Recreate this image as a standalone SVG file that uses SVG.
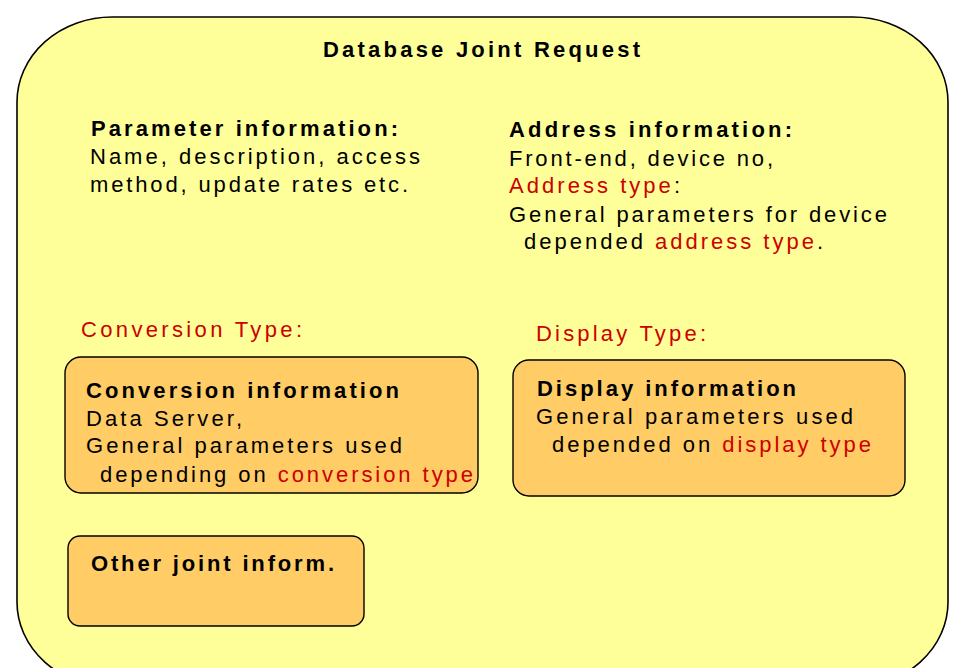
<svg xmlns="http://www.w3.org/2000/svg" width="960" height="668" viewBox="0 0 960 668">
<style>
text{font-family:"Liberation Sans",Arial,sans-serif;font-size:22px;fill:#000}
.b{font-weight:bold}
.r{fill:#CC0000}
.outer{fill:#FFFF99;stroke:#000;stroke-width:1.6}
.box{fill:#FFCC66;stroke:#000;stroke-width:1.4}
</style>
<rect width="960" height="668" fill="#fff"/>
<g id="joint-request">
<rect class="outer" x="17" y="17" width="931" height="670" rx="95" ry="85"/>
<text class="b" x="323" y="57" textLength="317" lengthAdjust="spacing">Database Joint Request</text>
</g>
<g id="parameter-info">
<text class="b" x="91" y="136" textLength="307" lengthAdjust="spacing">Parameter information:</text>
<text x="90" y="164" textLength="330" lengthAdjust="spacing">Name, description, access</text>
<text x="90" y="192" textLength="318" lengthAdjust="spacing">method, update rates etc.</text>
</g>
<g id="address-info">
<text class="b" x="509" y="137" textLength="283" lengthAdjust="spacing">Address information:</text>
<text x="509" y="166" textLength="264" lengthAdjust="spacing">Front-end, device no,</text>
<text x="509" y="193" textLength="171" lengthAdjust="spacing"><tspan class="r">Address type</tspan>:</text>
<text x="509" y="222" textLength="378" lengthAdjust="spacing">General parameters for device</text>
<text x="524" y="249" textLength="299" lengthAdjust="spacing">depended <tspan class="r">address type</tspan>.</text>
</g>
<g id="conversion-type">
<text class="r" x="81" y="337" textLength="221" lengthAdjust="spacing">Conversion Type:</text>
</g>
<g id="conversion-info">
<rect class="box" x="65" y="357" width="413" height="136" rx="16" ry="16"/>
<text class="b" x="86" y="398" textLength="313" lengthAdjust="spacing">Conversion information</text>
<text x="86" y="426" textLength="156" lengthAdjust="spacing">Data Server,</text>
<text x="86" y="453" textLength="316" lengthAdjust="spacing">General parameters used</text>
<text x="100" y="482" textLength="373" lengthAdjust="spacing">depending on <tspan class="r">conversion type</tspan></text>
</g>
<g id="display-type">
<text class="r" x="536" y="341" textLength="170" lengthAdjust="spacing">Display Type:</text>
</g>
<g id="display-info">
<rect class="box" x="513" y="360" width="392" height="136" rx="16" ry="16"/>
<text class="b" x="537" y="396" textLength="259" lengthAdjust="spacing">Display information</text>
<text x="536" y="424" textLength="317" lengthAdjust="spacing">General parameters used</text>
<text x="552" y="452" textLength="319" lengthAdjust="spacing">depended on <tspan class="r">display type</tspan></text>
</g>
<g id="other-info">
<rect class="box" x="68" y="536" width="296" height="90" rx="12" ry="12"/>
<text class="b" x="91" y="571" textLength="243" lengthAdjust="spacing">Other joint inform.</text>
</g>
<g id="connectors"></g>
</svg>
